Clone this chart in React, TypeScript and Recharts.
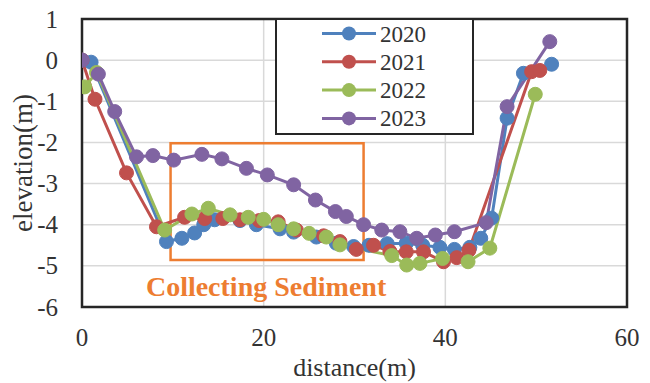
import React from 'react';
import { LineChart, Line, XAxis, YAxis, CartesianGrid, ReferenceArea, Legend, Label } from 'recharts';

const X_TICKS = [0, 20, 40, 60];
const Y_TICKS = [-6, -5, -4, -3, -2, -1, 0, 1];

const SERIES_NAMES = ['2020', '2021', '2022', '2023'];
const SERIES_COLORS = ['#4F81BD', '#C0504D', '#9BBB59', '#8064A2'];

const dist2020 = [0, 1.0, 9.3, 11.0, 12.4, 13.4, 14.6, 17.4, 19.2, 21.8, 23.3, 25.8, 28.0, 29.9, 31.6, 33.6, 35.7, 37.5, 39.4, 41.0, 42.7, 43.9, 45.1, 46.8, 48.6, 51.7];
const elev2020 = [0, -0.05, -4.41, -4.33, -4.2, -4.0, -3.88, -3.9, -4.0, -4.1, -4.18, -4.3, -4.45, -4.53, -4.5, -4.46, -4.45, -4.5, -4.55, -4.6, -4.55, -4.33, -3.84, -1.41, -0.32, -0.1];

const dist2021 = [0, 1.43, 4.9, 8.2, 11.3, 13.5, 15.5, 17.4, 19.5, 21.6, 23.6, 26.6, 28.4, 30.2, 32.1, 33.9, 35.7, 37.6, 39.8, 41.25, 42.6, 49.5, 50.4];
const elev2021 = [0, -0.95, -2.74, -4.05, -3.82, -3.85, -3.85, -3.88, -3.9, -3.93, -4.13, -4.27, -4.41, -4.6, -4.5, -4.65, -4.66, -4.66, -4.9, -4.8, -4.62, -0.28, -0.25];

const dist2022 = [0.3, 1.6, 9.1, 12.1, 13.9, 16.3, 18.3, 20.0, 21.6, 23.3, 25.0, 26.9, 28.4, 34.1, 35.75, 37.2, 39.7, 42.5, 44.9, 49.9];
const elev2022 = [-0.65, -0.3, -4.13, -3.74, -3.6, -3.76, -3.82, -3.87, -4.0, -4.1, -4.21, -4.3, -4.49, -4.75, -4.98, -4.94, -4.82, -4.9, -4.57, -0.83];

const dist2023 = [0, 1.8, 3.6, 6.0, 7.8, 10.1, 13.2, 15.4, 18.1, 20.4, 23.3, 25.7, 27.9, 29.1, 31.0, 33.0, 35.0, 36.85, 38.9, 41.0, 44.5, 46.8, 51.5];
const elev2023 = [0, -0.34, -1.25, -2.35, -2.32, -2.43, -2.29, -2.4, -2.63, -2.79, -3.03, -3.4, -3.68, -3.8, -4.0, -4.13, -4.17, -4.33, -4.25, -4.17, -3.95, -1.13, 0.45];

const BOX_X = [9.75, 31.0];
const BOX_Y = [-4.86, -2.02];
const BOX_LABEL = 'Collecting Sediment';

const toPoints = (xs: number[], ys: number[]) => xs.map((x, i) => ({ x, y: ys[i] }));
const SERIES_DATA = [
  toPoints(dist2020, elev2020),
  toPoints(dist2021, elev2021),
  toPoints(dist2022, elev2022),
  toPoints(dist2023, elev2023),
];

const FONT = 'Liberation Serif';
const TEXT_COLOR = '#333333';

const XTick = (props: any) => (
  <text x={props.x} y={props.y} dy={18} textAnchor="middle" fontSize={25} fill={TEXT_COLOR} style={{ fontFamily: FONT }}>
    {props.payload.value}
  </text>
);

const YTick = (props: any) => (
  <text x={props.x} y={props.y} dy={8.5} textAnchor="end" fontSize={25} fill={TEXT_COLOR} style={{ fontFamily: FONT }}>
    {props.payload.value}
  </text>
);

const BoxLabel = (props: any) => {
  const vb = props.viewBox || {};
  return (
    <text
      x={vb.x + vb.width / 2 - 1}
      y={vb.y + vb.height + 36}
      textAnchor="middle"
      fontSize={28}
      fontWeight="bold"
      fill="#ED7D31"
      style={{ fontFamily: FONT, fontWeight: 'bold' }}
    >
      {BOX_LABEL}
    </text>
  );
};

const LegendBox = () => (
  <svg width={199} height={117} style={{ display: 'block' }}>
    <rect x={1} y={1} width={197} height={115} fill="#fff" stroke="#262626" strokeWidth={2} />
    {SERIES_NAMES.map((name, i) => {
      const cy = 15.5 + i * 28.3;
      return (
        <g key={name}>
          <line x1={47} x2={101} y1={cy} y2={cy} stroke={SERIES_COLORS[i]} strokeWidth={3} />
          <circle cx={74} cy={cy} r={7} fill={SERIES_COLORS[i]} />
          <text x={105} y={cy + 8} fontSize={23} style={{ fontFamily: FONT }} fill={TEXT_COLOR}>{name}</text>
        </g>
      );
    })}
  </svg>
);

export default function App() {
  return (
    <div style={{ position: 'absolute', left: 0, top: 0, background: '#fff', fontFamily: FONT }}>
      <LineChart width={650} height={383} margin={{ top: 19, right: 23, left: 0, bottom: 0 }}>
        <CartesianGrid stroke="#d9d9d9" strokeWidth={1.5} />
        <XAxis
          type="number"
          dataKey="x"
          domain={[0, 60]}
          ticks={X_TICKS}
          allowDataOverflow
          height={76}
          tickLine={false}
          axisLine={false}
          tickSize={0}
          tickMargin={21}
          tick={XTick}
        >
          <Label value="distance(m)" position="insideBottom" offset={7} style={{ fontSize: 26, fontFamily: FONT, fill: TEXT_COLOR }} />
        </XAxis>
        <YAxis
          type="number"
          domain={[-6, 1]}
          ticks={Y_TICKS}
          allowDataOverflow
          width={82}
          tickLine={false}
          axisLine={false}
          tickSize={0}
          tickMargin={24}
          tick={YTick}
        >
          <Label value="elevation(m)" angle={-90} position="insideLeft" offset={22} style={{ fontSize: 27, fontFamily: FONT, fill: TEXT_COLOR, textAnchor: 'middle' }} />
        </YAxis>
        <ReferenceArea x1={0} x2={60} y1={-6} y2={1} fill="none" fillOpacity={0} stroke="#262626" strokeWidth={2.5} />
        {SERIES_NAMES.map((name, i) => (
          <Line
            key={name}
            name={name}
            data={SERIES_DATA[i]}
            dataKey="y"
            stroke={SERIES_COLORS[i]}
            strokeWidth={3}
            dot={{ r: 7, fill: SERIES_COLORS[i], stroke: SERIES_COLORS[i], strokeWidth: 1 }}
            activeDot={false}
            isAnimationActive={false}
          />
        ))}
        <ReferenceArea
          x1={BOX_X[0]}
          x2={BOX_X[1]}
          y1={BOX_Y[0]}
          y2={BOX_Y[1]}
          fill="none"
          fillOpacity={0}
          stroke="#ED7D31"
          strokeWidth={2.5}
          label={BoxLabel}
        />
        <Legend
          layout="vertical"
          align="center"
          verticalAlign="middle"
          content={() => <LegendBox />}
          wrapperStyle={{ position: 'absolute', left: 275, top: 18, width: 199, height: 117 }}
        />
      </LineChart>
    </div>
  );
}
